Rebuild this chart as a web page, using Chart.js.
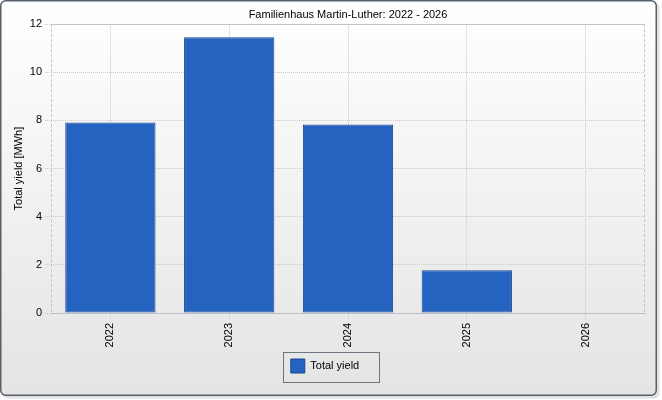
<!DOCTYPE html>
<html>
<head>
<meta charset="utf-8">
<script src="https://cdn.jsdelivr.net/npm/chart.js@4/dist/chart.umd.min.js"></script>
<style>
  html, body { margin: 0; padding: 0; background: #fff; }
  #wrap { width: 662px; height: 400px; }
</style>
</head>
<body>
<div id="wrap"><canvas id="chart" width="662" height="400"></canvas></div>
<script>
const years = ['2022', '2023', '2024', '2025', '2026'];
const totalYield = [7.92, 11.46, 7.83, 1.78, 0];
const yMax = 12;
const yStep = 2;
const chartTitle = 'Familienhaus Martin-Luther: 2022 - 2026';
const yTitle = 'Total yield [MWh]';
const seriesName = 'Total yield';

const FONT = 'Liberation Sans, Arial, sans-serif';
Chart.defaults.font.family = FONT;
Chart.defaults.font.size = 11;
Chart.defaults.color = '#000';

// frame, background, plot border and legend box
const decor = {
  id: 'decor',
  beforeDraw(chart) {
    const ctx = chart.ctx;
    ctx.save();
    // shadow
    ctx.fillStyle = 'rgba(0,0,0,0.12)';
    ctx.beginPath();
    ctx.roundRect(2.5, 2.5, 657, 396, 5);
    ctx.fill();
    const g = ctx.createLinearGradient(0, 0, 0, 396);
    g.addColorStop(0, '#ffffff');
    g.addColorStop(1, '#e4e4e4');
    ctx.fillStyle = g;
    ctx.strokeStyle = '#56606b';
    ctx.lineWidth = 1.5;
    ctx.beginPath();
    ctx.roundRect(0.75, 0.75, 655.5, 394.5, 5);
    ctx.fill();
    ctx.stroke();
    ctx.restore();
  },
  beforeDatasetsDraw(chart) {
    const {ctx, chartArea: a} = chart;
    ctx.save();
    ctx.lineWidth = 1;
    ctx.strokeStyle = '#c4c4c4';
    ctx.beginPath();
    ctx.moveTo(a.left, Math.round(a.top) + 0.5);
    ctx.lineTo(a.right, Math.round(a.top) + 0.5);
    ctx.stroke();
    ctx.setLineDash([3, 2]);
    ctx.beginPath();
    ctx.moveTo(Math.round(a.left) + 0.5, a.top);
    ctx.lineTo(Math.round(a.left) + 0.5, a.bottom);
    ctx.moveTo(Math.round(a.right) - 0.5, a.top);
    ctx.lineTo(Math.round(a.right) - 0.5, a.bottom);
    ctx.stroke();
    ctx.restore();
  },
  afterDraw(chart) {
    const hb = chart.legend.legendHitBoxes[0];
    if (!hb) return;
    const ctx = chart.ctx;
    ctx.save();
    ctx.strokeStyle = '#6c7680';
    ctx.lineWidth = 1;
    const x = Math.round(hb.left - 8) + 0.5;
    const y = Math.round(hb.top - 7) + 0.5;
    const w = Math.round(hb.width + 28);
    const h = Math.round(hb.height + 16);
    ctx.strokeRect(x, y, w, h);
    ctx.restore();
  }
};

new Chart(document.getElementById('chart'), {
  type: 'bar',
  data: {
    labels: years,
    datasets: [{
      label: seriesName,
      data: totalYield,
      backgroundColor: '#2563c0',
      borderColor: '#1a4590',
      borderWidth: 1,
      borderSkipped: false,
      inflateAmount: 0,
      categoryPercentage: 1,
      barPercentage: 0.76
    }]
  },
  options: {
    responsive: false,
    animation: false,
    devicePixelRatio: 1,
    layout: { padding: { top: 0, left: 0, right: 12, bottom: 17 } },
    plugins: {
      title: {
        display: true,
        text: chartTitle,
        fullSize: false,
        color: '#000',
        font: { size: 11, weight: 'normal' },
        padding: { top: 8, bottom: 3 }
      },
      legend: {
        position: 'bottom',
        labels: {
          boxWidth: 14,
          boxHeight: 14,
          padding: 7,
          color: '#000',
          font: { size: 11 }
        }
      },
      tooltip: { enabled: false }
    },
    scales: {
      x: {
        grid: {
          offset: false,
          color: '#cacaca',
          tickColor: '#cacaca',
          tickLength: 6,
          tickBorderDash: [1, 1]
        },
        border: { display: true, color: '#b8bec4', dash: [1, 1] },
        ticks: {
          autoSkip: false,
          minRotation: 90,
          maxRotation: 90,
          padding: 4,
          color: '#000'
        },
        afterFit(s) { s.height = 39; }
      },
      y: {
        min: 0,
        max: yMax,
        grid: {
          color: '#cacaca',
          tickColor: '#cacaca',
          tickLength: 6,
          tickBorderDash: [1, 1]
        },
        border: { display: false, dash: [1, 1] },
        ticks: { stepSize: yStep, padding: 3, color: '#000' },
        title: {
          display: true,
          text: yTitle,
          color: '#000',
          font: { size: 11 },
          padding: { top: 12, bottom: 0 }
        },
        afterFit(s) { s.width = 51; }
      },
      y2: {
        position: 'right',
        display: true,
        grid: { display: false, drawTicks: false },
        border: { display: false },
        ticks: { display: false },
        afterFit(s) { s.width = 5; }
      }
    }
  },
  plugins: [decor]
});
</script>
</body>
</html>
